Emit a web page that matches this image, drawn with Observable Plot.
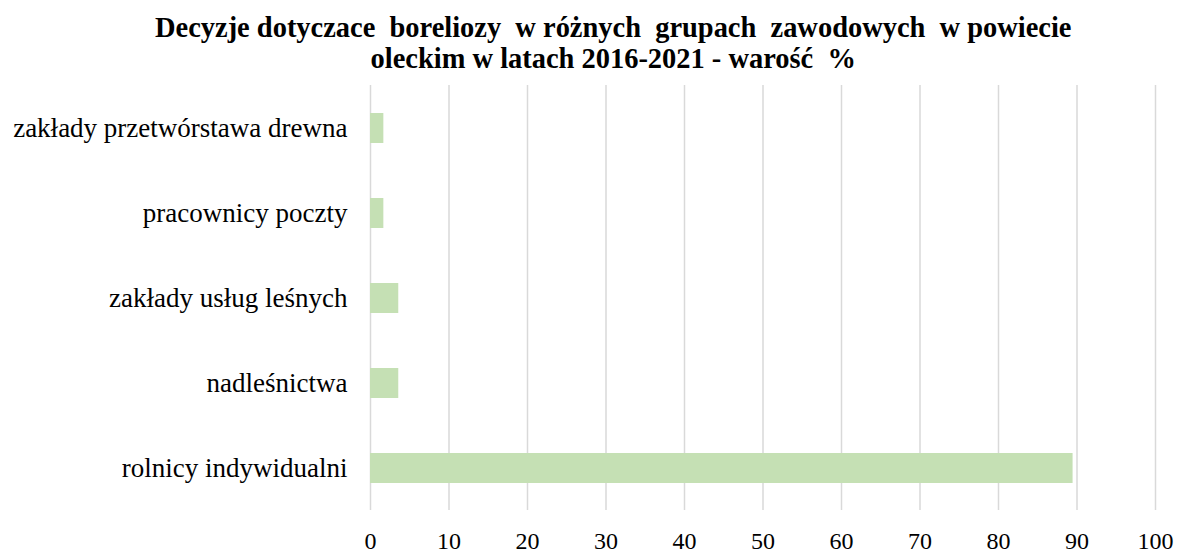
<!DOCTYPE html>
<html>
<head>
<meta charset="utf-8">
<script src="https://cdn.jsdelivr.net/npm/d3@7"></script>
<script src="https://cdn.jsdelivr.net/npm/@observablehq/plot@0.6"></script>
<style>
  html, body { margin: 0; padding: 0; background: #fff; }
  #wrap { width: 1181px; height: 554px; position: relative; overflow: hidden; }
  #title { position: absolute; left: 0; top: 0; width: 1181px; height: 84px;
    font-family: 'Liberation Serif', 'Times New Roman', serif; font-weight: bold;
    font-size: 30px; line-height: 31px; text-align: center; padding-top: 11px; box-sizing: border-box;
    color: #000; padding-left: 48px; transform: scaleX(0.948); transform-origin: 50% 50%; white-space: nowrap; }
  #chart { position: absolute; left: 0; top: 85px; }
</style>
</head>
<body>
<div id="wrap">
  <div id="title">Decyzje dotyczace&nbsp; boreliozy&nbsp; w różnych&nbsp; grupach&nbsp; zawodowych&nbsp; w powiecie<br>oleckim w latach 2016-2021 - warość&nbsp; %</div>
  <div id="chart"></div>
</div>
<script>
const categories = [
  "zakłady przetwórstawa drewna",
  "pracownicy poczty",
  "zakłady usług leśnych",
  "nadleśnictwa",
  "rolnicy indywidualni"
];
const values = [1.7, 1.7, 3.6, 3.6, 89.5];
const xTicks = [0, 10, 20, 30, 40, 50, 60, 70, 80, 90, 100];

const data = categories.map((c, i) => ({category: c, value: values[i]}));

const chart = Plot.plot({
  width: 1181,
  height: 469,
  marginTop: 0,
  marginBottom: 44,
  marginLeft: 370,
  marginRight: 26,
  style: "font-family: 'Liberation Serif', 'Times New Roman', serif; color: #000; background: #fff;",
  x: {domain: [0, 100], label: null},
  y: {domain: categories, label: null, paddingInner: 0.65, paddingOuter: 0.325},
  marks: [
    Plot.ruleX(xTicks, {stroke: "#d9d9d9", strokeWidth: 1.5}),
    Plot.barX(data, {x: "value", y: "category", fill: "#c5e0b4"}),
    Plot.axisX({ticks: xTicks, tickSize: 0, tickPadding: 21, fontSize: 24, label: null}),
    Plot.axisY({tickSize: 0, tickPadding: 23, fontSize: 27, label: null})
  ]
});
document.getElementById("chart").appendChild(chart);
</script>
</body>
</html>
